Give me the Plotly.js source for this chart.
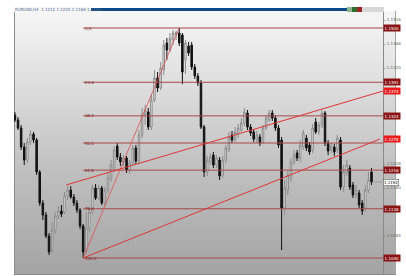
<!DOCTYPE html>
<html><head><meta charset="utf-8">
<script src="https://cdn.plot.ly/plotly-3.0.1.min.js"></script>
<style>
html,body{margin:0;padding:0;background:#fff;width:406px;height:276px;overflow:hidden;font-family:"DejaVu Sans",sans-serif}
#bg{position:absolute;left:14px;top:11px;width:382px;height:264px;box-sizing:border-box;
 background:linear-gradient(#f6f6f6 0%,#dcdcdc 30%,#c0c0c0 60%,#a4a4a4 100%);
 border-left:1px solid #8c8c8c;border-right:1px solid #9cab9c;border-bottom:1px solid #8a8a8a}
.d{position:absolute}
#chart{position:absolute;left:0;top:0;width:406px;height:276px}
</style></head>
<body>
<div id="bg"></div>
<div class="d" style="left:14px;top:7px;width:77px;height:5px;background:#f4f6f8"></div>
<div class="d" style="left:91px;top:8px;width:256px;height:3px;background:#0c4b87"></div>
<div class="d" style="left:347px;top:7px;width:5px;height:5px;background:#8fb88f"></div>
<div class="d" style="left:352px;top:7px;width:5px;height:5px;background:#2e6e2e"></div>
<div class="d" style="left:357px;top:7px;width:5px;height:5px;background:#a02424"></div>
<div class="d" style="left:362px;top:7px;width:22px;height:5px;background:#d8d8d8"></div>
<div id="chart"></div>
<script>
// candle data (index = bar number)
const open  = [1.1326,1.1316,1.1300,1.1262,1.1236,1.1272,1.1288,1.1276,1.1212,1.1150,
 1.1126,1.1084,1.1056,1.1096,1.1124,1.1134,1.1132,1.1164,1.1176,1.1162,
 1.1150,1.1136,1.1104,1.1056,1.1100,1.1132,1.1180,1.1160,1.1180,1.1150,
 1.1176,1.1200,1.1220,1.1264,1.1242,1.1232,1.1240,1.1216,1.1230,1.1260,
 1.1234,1.1286,1.1326,1.1332,1.1302,1.1356,1.1400,1.1380,1.1416,1.1470,
 1.1456,1.1476,1.1486,1.1490,1.1486,1.1436,1.1464,1.1466,1.1422,1.1404,
 1.1390,1.1302,1.1212,1.1232,1.1246,1.1226,1.1236,1.1206,1.1236,1.1256,
 1.1286,1.1276,1.1288,1.1296,1.1310,1.1330,1.1302,1.1292,1.1276,1.1282,
 1.1272,1.1300,1.1316,1.1330,1.1320,1.1300,1.1276,1.1140,1.1176,1.1200,
 1.1232,1.1250,1.1240,1.1262,1.1280,1.1266,1.1256,1.1312,1.1292,1.1306,
 1.1330,1.1270,1.1256,1.1262,1.1256,1.1276,1.1182,1.1210,1.1220,1.1186,
 1.1166,1.1170,1.1150,1.1140,1.1176,1.1212];
const high  = [1.1332,1.1322,1.1306,1.1270,1.1280,1.1296,1.1292,1.1280,1.1216,1.1156,
 1.1132,1.1090,1.1112,1.1132,1.1144,1.1146,1.1172,1.1184,1.1184,1.1168,
 1.1156,1.1140,1.1108,1.1132,1.1140,1.1186,1.1188,1.1186,1.1184,1.1182,
 1.1212,1.1236,1.1264,1.1270,1.1250,1.1246,1.1244,1.1236,1.1266,1.1266,
 1.1296,1.1340,1.1346,1.1340,1.1366,1.1416,1.1412,1.1432,1.1476,1.1480,
 1.1490,1.1496,1.1494,1.1500,1.1490,1.1476,1.1472,1.1472,1.1428,1.1410,
 1.1396,1.1306,1.1244,1.1250,1.1252,1.1246,1.1242,1.1244,1.1266,1.1292,
 1.1294,1.1302,1.1308,1.1320,1.1340,1.1336,1.1308,1.1298,1.1294,1.1288,
 1.1306,1.1326,1.1336,1.1336,1.1326,1.1306,1.1282,1.1196,1.1216,1.1240,
 1.1256,1.1256,1.1276,1.1296,1.1286,1.1272,1.1308,1.1320,1.1312,1.1336,
 1.1334,1.1276,1.1270,1.1268,1.1286,1.1282,1.1226,1.1236,1.1226,1.1192,
 1.1186,1.1176,1.1156,1.1186,1.1212,1.1220];
const low   = [1.1312,1.1296,1.1256,1.1226,1.1230,1.1266,1.1270,1.1206,1.1144,1.1116,
 1.1080,1.1046,1.1050,1.1088,1.1118,1.1122,1.1128,1.1156,1.1158,1.1144,
 1.1130,1.1098,1.1040,1.1048,1.1092,1.1128,1.1156,1.1156,1.1146,1.1144,
 1.1170,1.1192,1.1212,1.1236,1.1224,1.1224,1.1210,1.1208,1.1224,1.1228,
 1.1228,1.1280,1.1306,1.1296,1.1296,1.1352,1.1372,1.1376,1.1406,1.1436,
 1.1452,1.1466,1.1476,1.1464,1.1388,1.1408,1.1444,1.1416,1.1398,1.1384,
 1.1298,1.1202,1.1204,1.1226,1.1220,1.1220,1.1196,1.1200,1.1230,1.1252,
 1.1270,1.1272,1.1280,1.1292,1.1304,1.1296,1.1284,1.1272,1.1270,1.1264,
 1.1268,1.1296,1.1312,1.1314,1.1294,1.1260,1.1056,1.1126,1.1166,1.1192,
 1.1226,1.1234,1.1232,1.1256,1.1254,1.1246,1.1250,1.1288,1.1286,1.1300,
 1.1264,1.1246,1.1250,1.1244,1.1250,1.1176,1.1172,1.1204,1.1176,1.1160,
 1.1160,1.1140,1.1126,1.1132,1.1170,1.1186];
const close = [1.1316,1.1300,1.1262,1.1236,1.1272,1.1288,1.1276,1.1212,1.1150,1.1126,
 1.1084,1.1052,1.1096,1.1124,1.1134,1.1128,1.1164,1.1176,1.1162,1.1150,
 1.1136,1.1104,1.1052,1.1100,1.1132,1.1180,1.1160,1.1180,1.1150,1.1176,
 1.1200,1.1226,1.1256,1.1242,1.1232,1.1240,1.1216,1.1230,1.1260,1.1234,
 1.1286,1.1326,1.1336,1.1302,1.1356,1.1400,1.1380,1.1420,1.1466,1.1456,
 1.1480,1.1490,1.1492,1.1470,1.1412,1.1470,1.1450,1.1422,1.1404,1.1390,
 1.1302,1.1212,1.1236,1.1242,1.1226,1.1240,1.1204,1.1236,1.1260,1.1282,
 1.1276,1.1292,1.1300,1.1310,1.1332,1.1302,1.1290,1.1278,1.1286,1.1270,
 1.1300,1.1320,1.1330,1.1320,1.1300,1.1266,1.1140,1.1180,1.1206,1.1232,
 1.1246,1.1240,1.1266,1.1290,1.1260,1.1252,1.1300,1.1292,1.1306,1.1330,
 1.1270,1.1254,1.1264,1.1252,1.1280,1.1182,1.1212,1.1226,1.1182,1.1166,
 1.1176,1.1146,1.1134,1.1176,1.1196,1.1192];

// Fibonacci retracement levels (%) and their labels
const fibLevels = [0, 23.6, 38.2, 50, 61.8, 78.6, 100];
const fibLabels = ["0.0","23.6","38.2","50.0","61.8","78.6","100.0"];

// drawn trendlines (bar index, price)
const upperTrendX = [16.5, 118.7];
const upperTrendY = [1.1186, 1.1374];
const lowerTrendEndX = 117.7;
const lowerTrendEndY = 1.1278;

// price axis ticks (those hidden behind the level boxes are left out)
const tickPrices = [1.1516,1.1468,1.1420,1.1228,1.1180,1.1084];

const xMax = 118.7;
const idx = open.map((_, i) => i);
const hi = Math.max(...high), lo = Math.min(...low);
const iHi = high.indexOf(hi), iLo = low.indexOf(lo);
const lastClose = close[close.length - 1];

const shapes = [], annotations = [];
fibLevels.forEach((lv, k) => {
  const p = hi - (hi - lo) * lv / 100;
  shapes.push({type:'line', xref:'x', yref:'y', x0:iLo, x1:xMax, y0:p, y1:p,
    line:{color:'#a84848', width:1}});
  annotations.push({xref:'x', yref:'y', x:iLo, y:p, xanchor:'left', yanchor:'middle',
    text:fibLabels[k], showarrow:false, font:{size:4, color:'#7a2020', family:'DejaVu Sans'}});
  if (lv !== 50) {  // the 50% price box sits under the trendline's box
    annotations.push({xref:'paper', yref:'y', x:1, y:p, xanchor:'left', yanchor:'middle',
      text:p.toFixed(4), showarrow:false, bgcolor:'#8a1414', borderpad:0.6,
      font:{size:4, color:'#fff', family:'DejaVu Sans'}});
  }
});
// fib diagonal
shapes.push({type:'line', xref:'x', yref:'y', x0:iLo, y0:lo, x1:iHi, y1:hi,
  line:{color:'#d85050', width:0.8}});
// channel lines
shapes.push({type:'line', xref:'x', yref:'y', x0:iLo, y0:lo, x1:lowerTrendEndX, y1:lowerTrendEndY,
  line:{color:'#e03434', width:1}});
shapes.push({type:'line', xref:'x', yref:'y', x0:upperTrendX[0], y0:upperTrendY[0], x1:upperTrendX[1], y1:upperTrendY[1],
  line:{color:'#e03434', width:1}});
// current price line
shapes.push({type:'line', xref:'x', yref:'y', x0:idx[idx.length-1], x1:xMax, y0:lastClose, y1:lastClose,
  line:{color:'#8a8a8a', width:0.6}});

[upperTrendY[1], lowerTrendEndY].forEach(p => {
  annotations.push({xref:'paper', yref:'y', x:1, y:p, xanchor:'left', yanchor:'middle',
    text:p.toFixed(4), showarrow:false, bgcolor:'#e81a1a', borderpad:0.6,
    font:{size:4, color:'#fff', family:'DejaVu Sans'}});
});
annotations.push({xref:'paper', yref:'y', x:1, y:lastClose, xanchor:'left', yanchor:'middle',
  text:lastClose.toFixed(4), showarrow:false, bgcolor:'#ffffff', bordercolor:'#444', borderwidth:0.5, borderpad:0.4,
  font:{size:4, color:'#000', family:'DejaVu Sans'}});

const trace = {
  type:'candlestick', x:idx, open:open, high:high, low:low, close:close,
  increasing:{line:{color:'#8c8c8c', width:1}, fillcolor:'#eeeeee'},
  decreasing:{line:{color:'#111111', width:1}, fillcolor:'#111111'},
  whiskerwidth:0, hoverinfo:'skip', showlegend:false
};

const layout = {
  width:406, height:276,
  margin:{l:14, r:23, t:12, b:2},
  paper_bgcolor:'rgba(0,0,0,0)', plot_bgcolor:'rgba(0,0,0,0)',
  title:{text:'EURUSD,H4  1.1212 1.1220 1.1186 1.1192', x:15/406, xanchor:'left', y:1-9.5/276, yanchor:'middle',
    font:{size:4, color:'#56688a', family:'DejaVu Sans'}},
  xaxis:{range:[-0.3, xMax], showticklabels:false, showgrid:false, zeroline:false, showline:false,
    ticks:'', rangeslider:{visible:false}, fixedrange:true},
  yaxis:{range:[1.1008, 1.1532], side:'right', showgrid:false, zeroline:false,
    showline:true, linecolor:'#8a8a8a', linewidth:1,
    ticks:'outside', ticklen:2, tickcolor:'#888', tickwidth:0.5,
    tickvals:tickPrices, ticktext:tickPrices.map(v => v.toFixed(4)),
    tickfont:{size:4, color:'#666', family:'DejaVu Sans'}, fixedrange:true},
  shapes:shapes, annotations:annotations
};

Plotly.newPlot('chart', [trace], layout, {displayModeBar:false, staticPlot:true});
</script>
</body></html>
